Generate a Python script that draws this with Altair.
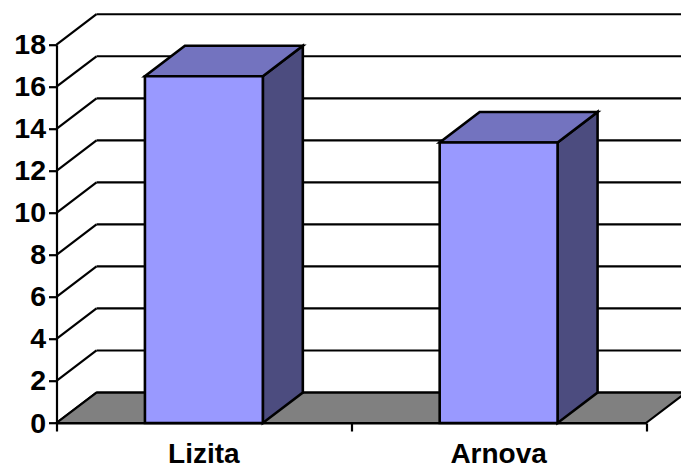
import altair as alt
import pandas as pd

# Chart values
categories = ["Lizita", "Arnova"]
values = [16.5, 13.35]
grid_values = [0, 2, 4, 6, 8, 10, 12, 14, 16, 18]

# Oblique projection of the chart depth, and the bar footprint, in axis units
DEPTH_X = 0.1357
DEPTH_Y = 1.45
BAR_START = 0.3
BAR_WIDTH = 0.4

FONT = "Liberation Sans"
LINE = 2.2
BAR_LINE = 2.6

x_scale = alt.Scale(domain=[0, 2], nice=False, zero=False)
y_scale = alt.Scale(domain=[0, 18], nice=False)

x_enc = alt.X("x:Q", scale=x_scale, title=None,
              axis=alt.Axis(values=[0, 1, 2], labels=False, ticks=True, tickSize=8,
                            tickWidth=LINE, tickColor="black", domainColor="black",
                            domainWidth=LINE, grid=False, zindex=1))
y_enc = alt.Y("y:Q", scale=y_scale, stack=None, title=None,
              axis=alt.Axis(values=grid_values, tickSize=8, tickWidth=LINE, tickColor="black",
                            domainColor="black", domainWidth=LINE, grid=False, labelPadding=3,
                            labelFont=FONT, labelFontWeight="bold", labelFontSize=28.5,
                            labelColor="black", zindex=1))

# Back wall gridlines and the matching strokes across the side wall
grid_df = pd.DataFrame({
    "x": [DEPTH_X] * len(grid_values),
    "x2": [2 + DEPTH_X] * len(grid_values),
    "y": [v + DEPTH_Y for v in grid_values],
})
back_lines = alt.Chart(grid_df).mark_rule(color="black", strokeWidth=LINE).encode(
    x=x_enc, x2="x2:Q", y=y_enc)

wall_df = pd.DataFrame({
    "x": [0.0] * len(grid_values),
    "x2": [DEPTH_X] * len(grid_values),
    "y": [float(v) for v in grid_values],
    "y2": [v + DEPTH_Y for v in grid_values],
})
wall_lines = alt.Chart(wall_df).mark_rule(color="black", strokeWidth=LINE).encode(
    x=x_enc, x2="x2:Q", y=y_enc, y2="y2:Q")

# Floor parallelogram
floor_df = pd.DataFrame({
    "y": [0.0, DEPTH_Y],
    "x": [0.0, DEPTH_X],
    "x2": [2.0, 2 + DEPTH_X],
})
floor = alt.Chart(floor_df).mark_area(
    orient="horizontal", color="#808080", stroke="black", strokeWidth=LINE
).encode(x=x_enc, x2="x2:Q", y=y_enc)

# Bar faces, all derived from the values
front_rows, side_rows, top_rows = [], [], []
for i, (name, value) in enumerate(zip(categories, values)):
    left = i + BAR_START
    right = left + BAR_WIDTH
    front_rows.append({"name": name, "x": left, "x2": right, "y": 0.0, "y2": value})
    side_rows += [
        {"name": name, "x": right, "y": value, "y2": 0.0},
        {"name": name, "x": right + DEPTH_X, "y": value + DEPTH_Y, "y2": DEPTH_Y},
    ]
    top_rows += [
        {"name": name, "y": value, "x": left, "x2": right},
        {"name": name, "y": value + DEPTH_Y, "x": left + DEPTH_X, "x2": right + DEPTH_X},
    ]

sides = alt.Chart(pd.DataFrame(side_rows)).mark_area(
    orient="vertical", color="#4C4C7F", stroke="black", strokeWidth=BAR_LINE
).encode(x=x_enc, y=y_enc, y2="y2:Q", detail="name:N")

tops = alt.Chart(pd.DataFrame(top_rows)).mark_area(
    orient="horizontal", color="#7373BF", stroke="black", strokeWidth=BAR_LINE
).encode(x=x_enc, x2="x2:Q", y=y_enc, detail="name:N")

fronts = alt.Chart(pd.DataFrame(front_rows)).mark_rect(
    color="#9999FF", stroke="black", strokeWidth=BAR_LINE
).encode(x=x_enc, x2="x2:Q", y=y_enc, y2="y2:Q")

# Category labels below the axis
label_df = pd.DataFrame({
    "x": [i + 0.5 for i in range(len(categories))],
    "y": [0.0] * len(categories),
    "label": categories,
})
labels = alt.Chart(label_df).mark_text(
    font=FONT, fontWeight="bold", fontSize=28, color="black",
    baseline="alphabetic", align="center", dy=40
).encode(x=x_enc, y=y_enc, text="label:N")

chart = alt.layer(back_lines, wall_lines, floor, sides, tops, fronts, labels).properties(
    width=589.5,
    height=378.3,
    background="white",
    autosize=alt.AutoSizeParams(type="none"),
    padding={"left": 56.5, "top": 44.7, "right": 35, "bottom": 46},
).configure_view(stroke=None)

chart.save("out.html", embed_options={"renderer": "svg", "actions": False})
